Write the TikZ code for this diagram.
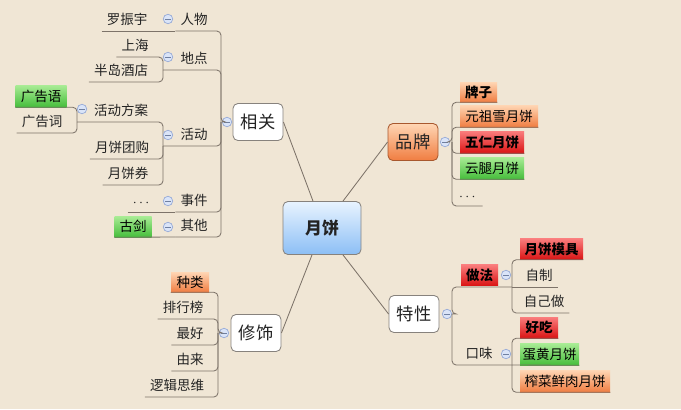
\documentclass[tikz,border=0pt]{standalone}
\usepackage{fontspec}
\setmainfont{Noto Sans CJK SC}
\usetikzlibrary{positioning}
\definecolor{bgwood}{RGB}{240,230,213}
\definecolor{linegray}{RGB}{125,115,105}
\definecolor{boxedge}{RGB}{135,130,125}
\definecolor{inkgray}{RGB}{35,35,35}
\definecolor{orangetop}{RGB}{255,214,180}
\definecolor{orangebot}{RGB}{240,125,65}
\definecolor{redtop}{RGB}{250,125,125}
\definecolor{redbot}{RGB}{218,20,20}
\definecolor{greentop}{RGB}{170,236,150}
\definecolor{greenbot}{RGB}{70,190,60}
\definecolor{bluetop}{RGB}{232,243,255}
\definecolor{bluebot}{RGB}{140,190,245}
\definecolor{minusfill}{RGB}{218,228,248}
\definecolor{minusedge}{RGB}{150,170,215}
\newcommand{\pxu}{0.025cm}
\newcommand{\leaffont}{\fontsize{9.6}{11}\selectfont}
\newcommand{\mainfont}{\fontsize{12.3}{14}\selectfont}

\begin{document}
\begin{tikzpicture}[
    x=0.025cm, y=-0.025cm,
    link/.style={draw=linegray, line width=0.6pt},
    branch/.style={draw=linegray, line width=0.6pt, rounded corners=3pt},
    leaf/.style={font=\leaffont, text=inkgray, inner xsep=3.5pt, inner ysep=3.5pt, anchor=south},
    tag/.style={font=\leaffont, text=black, inner sep=0pt, minimum height=21*\pxu},
    tagorange/.style={tag, top color=orangetop, bottom color=orangebot},
    tagred/.style={tag, top color=redtop, bottom color=redbot, font=\leaffont\bfseries},
    taggreen/.style={tag, top color=greentop, bottom color=greenbot},
    mainbox/.style={draw=boxedge, line width=0.6pt, rounded corners=3.5pt, fill=white,
        font=\mainfont, text=inkgray, minimum width=50*\pxu, minimum height=37*\pxu},
    minusmark/.style={circle, draw=minusedge, fill=minusfill, line width=0.5pt,
        minimum size=9.5*\pxu, inner sep=0pt,
        path picture={\draw[minusedge!75!black, line width=0.5pt]
            ([xshift=-1.8pt]path picture bounding box.center) -- ([xshift=1.8pt]path picture bounding box.center);}},
]
    % background
    \fill[bgwood] (0,0) rectangle (681,409);
    \useasboundingbox (0,0) rectangle (681,409);

    % main topics
    \node[mainbox, minimum width=78*\pxu, minimum height=53*\pxu, top color=bluetop, bottom color=bluebot,
        font=\fontsize{12}{14}\selectfont\bfseries] (yuebing) at (322,228) {月饼};
    \node[mainbox] (xiangguan) at (258,122) {相关};
    \node[mainbox, top color=orangetop, bottom color=orangebot, draw=orangebot!70!black] (pinpai) at (413,142) {品牌};
    \node[mainbox] (texing) at (414,314) {特性};
    \node[mainbox] (xiushi) at (256,333) {修饰};

    \draw[link] (xiangguan.east) -- ([xshift=-9*\pxu]yuebing.north);
    \draw[link] (pinpai.west) -- ([xshift=21*\pxu]yuebing.north);
    \draw[link] (xiushi.east) -- ([xshift=-10*\pxu]yuebing.south);
    \draw[link] (texing.west) -- ([xshift=21*\pxu]yuebing.south);

    % 相关
    \node[minusmark] (m-xg) at (227,122) {};
    \coordinate (sp-xg) at (221,122);
    \coordinate (sp-dd) at (163,70);
    \coordinate (sp-hd) at (163,146);
    \coordinate (sp-fa) at (77,122);

    \node[leaf] (renwu) at (194,31) {人物};
    \node[leaf] (luo) at (127,31) {罗振宇};
    \node[leaf] (didian) at (194,70) {地点};
    \node[leaf] (shanghai) at (135,57) {上海};
    \node[leaf] (bandao) at (121,82) {半岛酒店};
    \node[leaf] (huodong) at (194,146) {活动};
    \node[leaf] (fangan) at (121,122) {活动方案};
    \node[taggreen, minimum width=51*\pxu, minimum height=22*\pxu] (gaoyu) at (41,96) {广告语};
    \node[leaf] (gaoci) at (42,133) {广告词};
    \node[leaf] (tuangou) at (122,159) {月饼团购};
    \node[leaf] (quan) at (128,185) {月饼券};
    \node[leaf, minimum width=18*\pxu] (dots1) at (141,212) {$\cdots$};
    \node[leaf] (shijian) at (194,212) {事件};
    \node[leaf] (qita) at (194,237) {其他};
    \node[taggreen, minimum width=37*\pxu] (gujian) at (133,226.5) {古剑};

    \draw[branch] (renwu.south west) -| (sp-xg) -- (m-xg);
    \draw[branch] (luo.south west) -- (renwu.south west);
    \draw[branch] (sp-dd) -| (sp-xg);
    \draw[branch] (shanghai.south west) -| (sp-dd);
    \draw[branch] (bandao.south west) -| (sp-dd);
    \draw[branch] (sp-hd) -| (sp-xg);
    \draw[branch] (sp-fa) -| (sp-hd);
    \draw[branch] (gaoyu.south west) -| (sp-fa);
    \draw[branch] (gaoci.south west) -| (sp-fa);
    \draw[branch] (tuangou.south west) -| (sp-hd);
    \draw[branch] (quan.south west) -| (sp-hd);
    \draw[branch] (shijian.south west) -| (sp-xg);
    \draw[branch] (dots1.south west) -- (shijian.south west);
    \draw[branch] (qita.south west) -| (sp-xg);
    \draw[branch] (gujian.south west) -- (qita.south west);

    \node[minusmark] (m-rw) at (168,19) {};
    \node[minusmark] (m-dd) at (168,57) {};
    \node[minusmark] (m-hd) at (168,135) {};
    \node[minusmark] (m-fa) at (82,109) {};
    \node[minusmark] (m-sj) at (168,201) {};
    \node[minusmark] (m-qt) at (168,227) {};

    % 品牌
    \node[minusmark] (m-pp) at (445,142) {};
    \coordinate (sp-pp) at (452,142);
    \node[tagorange, font=\leaffont\bfseries, minimum width=37*\pxu, minimum height=20*\pxu] (paizi) at (478.5,92) {牌子};
    \node[tagorange, minimum width=78*\pxu, minimum height=22*\pxu] (yuanzu) at (499,116) {元祖雪月饼};
    \node[tagred, minimum width=64*\pxu, minimum height=22*\pxu] (wuren) at (492,142) {五仁月饼};
    \node[taggreen, minimum width=64*\pxu, minimum height=22*\pxu] (yuntui) at (492,168) {云腿月饼};
    \node[leaf, anchor=south west, minimum width=30*\pxu] (dots2) at (452,206) {$\cdots$};

    \draw[branch] (paizi.south east) -| (sp-pp) -- (m-pp);
    \draw[branch] (yuanzu.south east) -| (sp-pp);
    \draw[branch] (wuren.south east) -| (sp-pp);
    \draw[branch] (yuntui.south east) -| (sp-pp);
    \draw[branch] (dots2.south east) -| (sp-pp);

    % 特性
    \node[minusmark] (m-tx) at (447,314) {};
    \coordinate (sp-tx) at (452,314);
    \coordinate (sp-zf) at (512,287);
    \coordinate (sp-kw) at (512,365);
    \node[tagred, minimum width=37*\pxu] (zuofa) at (479.5,275) {做法};
    \node[tagred, minimum width=63*\pxu] (mujv) at (551.5,249) {月饼模具};
    \node[leaf] (zizhi) at (539,287) {自制};
    \node[leaf] (zijizuo) at (544,313) {自己做};
    \node[leaf] (kouwei) at (479,365) {口味};
    \node[tagred, minimum width=38*\pxu] (haochi) at (539,327.5) {好吃};
    \node[taggreen, minimum width=59*\pxu, minimum height=22*\pxu] (danhuang) at (549.5,354) {蛋黄月饼};
    \node[tagorange, minimum width=90*\pxu, minimum height=22*\pxu] (zhacai) at (565,381) {榨菜鲜肉月饼};

    \draw[branch] (sp-zf) -| (sp-tx) -- (m-tx);
    \draw[branch] (mujv.south east) -| (sp-zf);
    \draw[branch] (zizhi.south east) -- (sp-zf);
    \draw[branch] (zijizuo.south east) -| (sp-zf);
    \draw[branch] (sp-kw) -| (sp-tx);
    \draw[branch] (haochi.south east) -| (sp-kw);
    \draw[branch] (danhuang.south east) -- (sp-kw);
    \draw[branch] (zhacai.south east) -| (sp-kw);

    \node[minusmark] (m-zf) at (506,275) {};
    \node[minusmark] (m-kw) at (506,354) {};

    % 修饰
    \node[minusmark] (m-xs) at (224,333) {};
    \coordinate (sp-xs) at (218,333);
    \node[tagorange, minimum width=38*\pxu, minimum height=20*\pxu] (zhonglei) at (190,282) {种类};
    \node[leaf] (paihang) at (183,319) {排行榜};
    \node[leaf] (zuihao) at (190,345) {最好};
    \node[leaf] (youlai) at (190,371) {由来};
    \node[leaf] (luoji) at (177,397) {逻辑思维};

    \draw[branch] (zhonglei.south west) -| (sp-xs) -- (m-xs);
    \draw[branch] (paihang.south west) -| (sp-xs);
    \draw[branch] (zuihao.south west) -| (sp-xs);
    \draw[branch] (youlai.south west) -| (sp-xs);
    \draw[branch] (luoji.south west) -| (sp-xs);
\end{tikzpicture}
\end{document}
